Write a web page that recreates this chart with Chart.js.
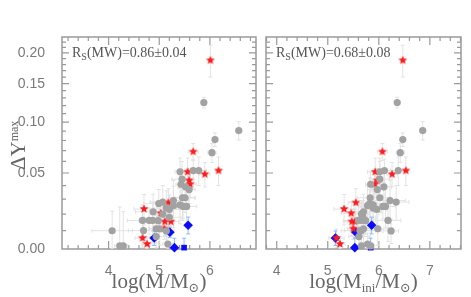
<!DOCTYPE html>
<html>
<head>
<meta charset="utf-8">
<script src="https://cdn.jsdelivr.net/npm/chart.js"></script>
<style>
body { margin: 0; background: #fff; }
#wrap { position: relative; width: 471px; height: 297px; }
canvas { position: absolute; top: 0; }
</style>
</head>
<body>
<div id="wrap">
<canvas id="leftChart" width="261" height="297" style="left:0;width:261px;height:297px"></canvas>
<canvas id="rightChart" width="210" height="297" style="left:261px;width:210px;height:297px"></canvas>
</div>
<script>
// y axis is log10(dY + 0.08)
var Y_OFF = 0.08;

var yTicks = [0, 0.05, 0.10, 0.15, 0.20];
var xTicks = [4, 5, 6, 7];

// grey points
var greyDY      = [0.124, 0.0905, 0.081, 0.068, 0.051, 0.052, 0.052, 0.045, 0.041, 0.039, 0.037, 0.031, 0.031, 0.029, 0.026, 0.025, 0.025, 0.028, 0.027, 0.0255, 0.023, 0.0215, 0.020, 0.018, 0.016, 0.016, 0.016, 0.0159, 0.010, 0.011, 0.0098, 0.0099, 0.0016, 0.0016, 0.0026, 0.0066, 0.024, 0.011];
var greyLogM    = [5.88, 6.57, 6.10, 6.04, 5.41, 5.67, 5.78, 5.45, 5.43, 5.52, 5.59, 5.46, 5.51, 5.28, 5.41, 5.47, 5.54, 5.07, 4.99, 5.28, 5.20, 4.88, 5.07, 5.20, 4.67, 4.80, 4.87, 4.98, 4.69, 5.01, 5.14, 4.07, 4.22, 4.29, 5.17, 4.94, 5.14, 4.94];
var greyLogMini = [6.36, 6.86, 6.47, 6.42, 6.02, 6.11, 6.38, 6.02, 5.84, 6.10, 5.97, 5.83, 6.02, 6.22, 5.89, 6.08, 6.13, 6.34, 5.82, 5.78, 5.96, 5.70, 5.66, 5.69, 5.60, 5.66, 6.18, 5.74, 5.63, 5.98, 6.24, 5.66, 5.66, 5.84, 5.78, 5.61, 5.89, 5.70];
var greyErrX    = [0.05, 0.06, 0.05, 0.08, 0.10, 0.12, 0.15, 0.20, 0.10, 0.15, 0.12, 0.25, 0.20, 0.30, 0.15, 0.10, 0.20, 0.25, 0.30, 0.15, 0.20, 0.35, 0.15, 0.25, 0.30, 0.20, 0.25, 0.15, 0.30, 0.20, 0.15, 0.40, 0.10, 0.08, 0.10, 0.20, 0.20, 0.15];
var greyErrY    = [0.007, 0.010, 0.007, 0.009, 0.012, 0.010, 0.012, 0.015, 0.010, 0.012, 0.010, 0.015, 0.010, 0.015, 0.012, 0.008, 0.013, 0.012, 0.010, 0.014, 0.010, 0.012, 0.009, 0.011, 0.010, 0.008, 0.012, 0.008, 0.008, 0.009, 0.007, 0.012, 0.023, 0.020, 0.006, 0.006, 0.012, 0.008];

// red stars
var starDY      = [0.187, 0.069, 0.051, 0.049, 0.052, 0.044, 0.041, 0.0276, 0.0233, 0.0205, 0.0153, 0.0153, 0.0111, 0.0058, 0.0026];
var starLogM    = [6.01, 5.67, 5.56, 5.90, 6.17, 5.59, 5.61, 5.18, 4.70, 5.03, 5.11, 5.23, 5.10, 4.67, 4.76];
var starLogMini = [6.47, 6.07, 5.93, 6.26, 6.53, 5.97, 5.92, 5.55, 5.32, 5.46, 5.47, 5.53, 5.50, 5.17, 5.24];
var starErrX    = [0.03, 0.10, 0.15, 0.10, 0.05, 0.10, 0.12, 0.15, 0.20, 0.20, 0.15, 0.15, 0.12, 0.15, 0.10];
var starErrY    = [0.027, 0.008, 0.012, 0.010, 0.012, 0.010, 0.010, 0.010, 0.010, 0.008, 0.008, 0.008, 0.006, 0.005, 0.004];

// blue diamonds and square
var blueDY      = [0.0058, 0.0090, 0.0131, 0.0007];
var blueLogM    = [4.90, 5.21, 5.57, 5.30];
var blueLogMini = [5.15, 5.55, 5.86, 5.53];
var blueErrY    = [0.004, 0.003, 0.005, 0.005];
var squareDY      = [0.0007];
var squareLogM    = [5.49];
var squareLogMini = [5.84];
var squareErrY    = [0.005];

var SERIF = '"Liberation Serif", "DejaVu Serif", serif';
var SANS = '"Liberation Sans", Arial, sans-serif';

class OffsetLogScale extends Chart.LinearScale {
    configure() {
        super.configure();
        this._tmin = Math.log10(this.min + Y_OFF);
        this._tmax = Math.log10(this.max + Y_OFF);
    }
    getPixelForValue(v) {
        return this.getPixelForDecimal((Math.log10(v + Y_OFF) - this._tmin) / (this._tmax - this._tmin));
    }
    getValueForPixel(p) {
        var d = this.getDecimalForPixel(p);
        return Math.pow(10, this._tmin + d * (this._tmax - this._tmin)) - Y_OFF;
    }
}
OffsetLogScale.id = 'offsetlog';
OffsetLogScale.defaults = Chart.LinearScale.defaults;
Chart.register(OffsetLogScale);

function starImage(r, color) {
    var c = document.createElement('canvas');
    var s = Math.ceil(r * 2) + 2;
    c.width = s; c.height = s;
    var g = c.getContext('2d');
    g.fillStyle = color;
    g.beginPath();
    for (var i = 0; i < 10; i++) {
        var rad = i % 2 ? r * 0.45 : r;
        var a = -Math.PI / 2 + i * Math.PI / 5;
        g.lineTo(s / 2 + rad * Math.cos(a), s / 2 + rad * Math.sin(a));
    }
    g.closePath();
    g.fill();
    return c;
}
var redStar = starImage(4.6, '#ff1c1c');

function pts(xs, ys) {
    return xs.map(function(x, i) { return {x: x, y: ys[i]}; });
}

function drawParts(ctx, parts, x, y, center) {
    var w = 0;
    parts.forEach(function(p) { ctx.font = p[1] + 'px ' + SERIF; w += ctx.measureText(p[0]).width; });
    var cx = center ? x - w / 2 : x;
    parts.forEach(function(p) {
        ctx.font = p[1] + 'px ' + SERIF;
        ctx.fillText(p[0], cx, y + p[2]);
        cx += ctx.measureText(p[0]).width;
    });
}

function panelPlugin(label, xTitle, showYTitle) {
    return {
        id: 'panel',
        beforeDatasetsDraw: function(chart) {
            var ctx = chart.ctx, a = chart.chartArea, xs = chart.scales.x, ys = chart.scales.y;
            ctx.save();
            // frame
            ctx.strokeStyle = '#9a9a9a';
            ctx.lineWidth = 1.5;
            ctx.strokeRect(a.left, a.top, a.right - a.left, a.bottom - a.top);
            // inward ticks
            ctx.lineWidth = 1.2;
            ctx.beginPath();
            for (var i = 1; i <= 23; i++) {
                var v = i / 100, len = (i % 5 === 0) ? 7 : 4;
                var py = ys.getPixelForValue(v);
                if (py < a.top + 1) continue;
                ctx.moveTo(a.left, py); ctx.lineTo(a.left + len, py);
                ctx.moveTo(a.right, py); ctx.lineTo(a.right - len, py);
            }
            for (var k = Math.ceil(xs.min * 5); k <= Math.floor(xs.max * 5); k++) {
                var len2 = (k % 5 === 0) ? 8 : 4;
                var px = xs.getPixelForValue(k / 5);
                ctx.moveTo(px, a.bottom); ctx.lineTo(px, a.bottom - len2);
                ctx.moveTo(px, a.top); ctx.lineTo(px, a.top + len2);
            }
            ctx.stroke();

            // error bars
            ctx.beginPath();
            ctx.rect(a.left, a.top, a.right - a.left, a.bottom - a.top);
            ctx.clip();
            ctx.lineWidth = 1;
            chart.data.datasets.forEach(function(ds) {
                ctx.strokeStyle = ds.errColor;
                ctx.beginPath();
                ds.data.forEach(function(p, i) {
                    var px = xs.getPixelForValue(p.x), py = ys.getPixelForValue(p.y);
                    var ex = ds.errX ? ds.errX[i] : 0, ey = ds.errY ? ds.errY[i] : 0;
                    if (ey) {
                        var y1 = ys.getPixelForValue(p.y + ey);
                        var y2 = ys.getPixelForValue(Math.max(p.y - ey, ys.min));
                        ctx.moveTo(px, y1); ctx.lineTo(px, y2);
                        ctx.moveTo(px - 2, y1); ctx.lineTo(px + 2, y1);
                        ctx.moveTo(px - 2, y2); ctx.lineTo(px + 2, y2);
                    }
                    if (ex) {
                        var x1 = xs.getPixelForValue(p.x - ex), x2 = xs.getPixelForValue(p.x + ex);
                        ctx.moveTo(x1, py); ctx.lineTo(x2, py);
                        ctx.moveTo(x1, py - 2); ctx.lineTo(x1, py + 2);
                        ctx.moveTo(x2, py - 2); ctx.lineTo(x2, py + 2);
                    }
                });
                ctx.stroke();
            });
            ctx.restore();
        },
        afterDraw: function(chart) {
            var ctx = chart.ctx, a = chart.chartArea;
            ctx.save();
            ctx.fillStyle = '#555';
            ctx.textBaseline = 'alphabetic';
            drawParts(ctx, [['R', 14, 0], ['S', 10, 3], [label, 14, 0]], a.left + 10, a.top + 20, false);
            ctx.fillStyle = '#666';
            drawParts(ctx, xTitle, (a.left + a.right) / 2, 288, true);
            if (showYTitle) {
                ctx.translate(25, 170);
                ctx.rotate(-Math.PI / 2);
                drawParts(ctx, [['\u0394Y', 21, 0], ['max', 12, -7]], 0, 0, false);
            }
            ctx.restore();
        }
    };
}

function makePanel(id, greyX, starX, blueX, squareX, xmin, xmax, label, xTitle, isLeft) {
    var datasets = [
        {data: pts(greyX, greyDY), errX: greyErrX, errY: greyErrY, errColor: '#e3e3e3',
         pointStyle: 'circle', pointRadius: 3.6, backgroundColor: '#a2a2a2', borderWidth: 0, clip: false},
        {data: pts(starX, starDY), errX: starErrX, errY: starErrY, errColor: '#e3e3e3',
         pointStyle: redStar, pointRadius: 5, backgroundColor: '#ff1c1c', borderWidth: 0, clip: false},
        {data: pts(blueX, blueDY), errY: blueErrY, errColor: '#8cbcf5',
         pointStyle: 'rectRot', pointRadius: 4.8, backgroundColor: '#0a0aff', borderWidth: 0, clip: false},
        {data: pts(squareX, squareDY), errY: squareErrY, errColor: '#8cbcf5',
         pointStyle: 'rect', pointRadius: 4, backgroundColor: '#0a0aff', borderWidth: 0, clip: false}
    ];
    return new Chart(document.getElementById(id), {
        type: 'scatter',
        data: {datasets: datasets},
        options: {
            responsive: false,
            animation: false,
            events: [],
            layout: {padding: isLeft ? {top: 37, right: 1, left: 0, bottom: 0} : {top: 37, right: 10, left: 2, bottom: 0}},
            plugins: {legend: {display: false}, tooltip: {enabled: false}},
            scales: {
                x: {
                    type: 'linear', min: xmin, max: xmax,
                    grid: {display: false}, border: {display: false},
                    afterBuildTicks: function(s) {
                        s.ticks = xTicks.filter(function(v) { return v >= s.min && v <= s.max; }).map(function(v) { return {value: v}; });
                    },
                    afterFit: function(s) { s.height = 48; },
                    ticks: {color: '#7a7a7a', font: {family: SANS, size: 14}, padding: 6, maxRotation: 0,
                            callback: function(v) { return String(v); }}
                },
                y: {
                    type: 'offsetlog', min: 0, max: 0.23, display: isLeft,
                    grid: {display: false}, border: {display: false},
                    afterBuildTicks: function(s) {
                        s.ticks = yTicks.map(function(v) { return {value: v}; });
                    },
                    afterFit: function(s) { if (isLeft) s.width = 62; },
                    ticks: {color: '#7a7a7a', font: {family: SANS, size: 14}, padding: 9,
                            callback: function(v) { return v.toFixed(2); }}
                }
            }
        },
        plugins: [panelPlugin(label, xTitle, isLeft)]
    });
}

makePanel('leftChart', greyLogM, starLogM, blueLogM, squareLogM, 3.08, 6.91, '(MW)=0.86\u00b10.04',
    [['log(M', 21, 0], ['/M', 21, 0], ['\u2299', 13, 4], [')', 21, 0]], true);
makePanel('rightChart', greyLogMini, starLogMini, blueLogMini, squareLogMini, 3.79, 7.61, '(MW)=0.68\u00b10.08',
    [['log(M', 21, 0], ['ini', 13, 4], ['/M', 21, 0], ['\u2299', 13, 4], [')', 21, 0]], false);
</script>
</body>
</html>
